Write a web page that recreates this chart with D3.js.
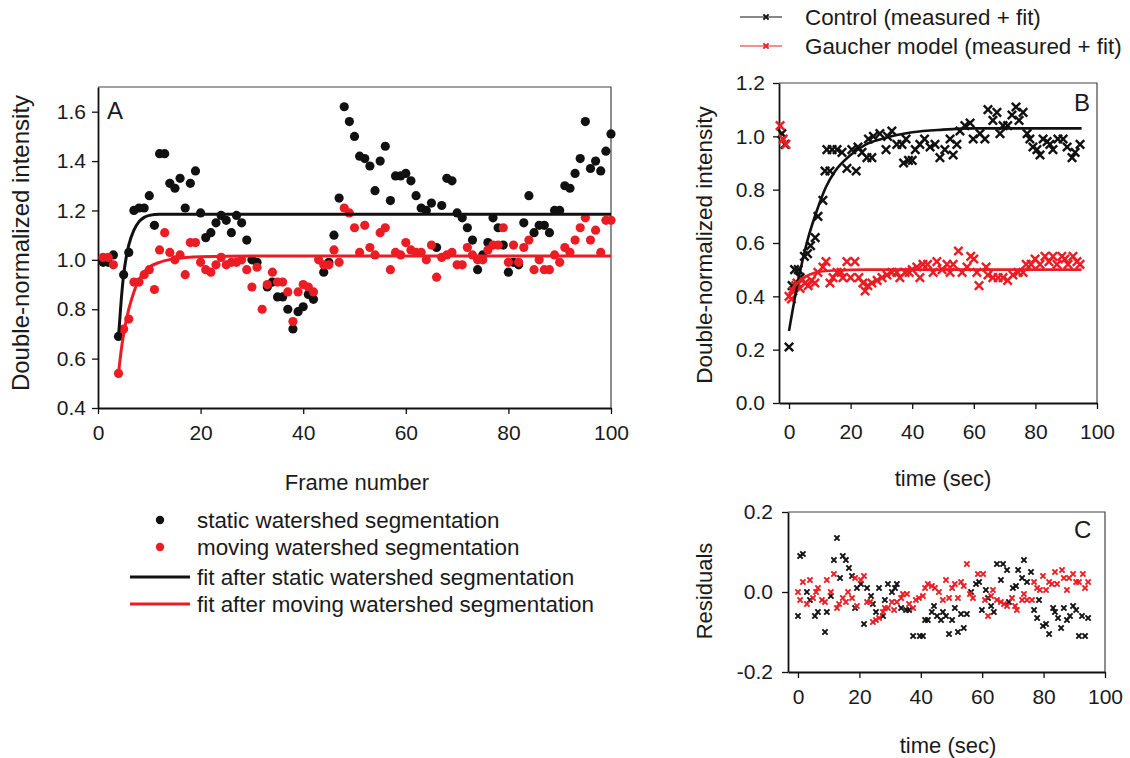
<!DOCTYPE html>
<html lang="en">
<head>
  <meta charset="UTF-8">
  <title>Double-normalized intensity recovery</title>
  <script src="https://d3js.org/d3.v7.min.js"></script>
  <style>
    body { margin: 0; background: #fff; font-family: "Liberation Sans", Arial, sans-serif; }
    svg text { fill: #1a1a1a; }
    .tick text { font-size: 21px; font-family: "Liberation Sans", Arial, sans-serif; }
    .domain { stroke: #111; stroke-width: 1.8px; }
    .tick line { stroke: #111; stroke-width: 1.3px; }
    .title { font-size: 22px; }
    .legend { font-size: 22.4px; }
  </style>
</head>
<body>
  <svg width="1130" height="758"></svg>

  <script>
    // ---- panel A: frame number vs intensity ----
    const staticWatershed = [
      [1,0.99],[2,0.99],[3,1.02],[4,0.69],[5,0.94],[6,1.03],[7,1.20],[8,1.21],[9,1.21],[10,1.26],
      [11,1.14],[12,1.43],[13,1.43],[14,1.31],[15,1.29],[16,1.33],[17,1.21],[18,1.31],[19,1.36],[20,1.19],
      [21,1.09],[22,1.11],[23,1.15],[24,1.18],[25,1.16],[26,1.11],[27,1.18],[28,1.15],[29,1.08],[30,1.00],
      [31,0.99],[33,0.89],[34,0.91],[35,0.85],[36,0.85],[37,0.80],[38,0.72],[39,0.79],[40,0.81],[41,0.86],
      [42,0.84],[44,0.95],[45,0.99],[46,1.10],[47,1.25],[48,1.62],[49,1.56],[50,1.50],[51,1.42],[52,1.41],
      [53,1.38],[54,1.28],[55,1.40],[56,1.46],[57,1.24],[58,1.34],[59,1.34],[60,1.35],[61,1.32],[62,1.26],
      [63,1.21],[64,1.20],[65,1.23],[66,1.05],[67,1.22],[68,1.33],[69,1.32],[70,1.19],[71,1.17],[72,1.13],
      [73,1.08],[74,0.96],[75,1.02],[76,1.07],[77,1.17],[78,1.13],[79,1.06],[80,0.95],[81,0.99],[82,0.98],
      [83,1.15],[84,1.26],[85,1.11],[86,1.14],[87,1.14],[88,1.11],[89,1.20],[90,1.20],[91,1.30],[92,1.29],
      [93,1.35],[94,1.41],[95,1.56],[96,1.37],[97,1.40],[98,1.36],[99,1.44],[100,1.51]
    ];
    const movingWatershed = [
      [1,1.01],[2,1.01],[3,0.98],[4,0.54],[5,0.72],[6,0.76],[7,0.91],[8,0.91],[9,0.94],[10,0.96],
      [11,0.88],[12,1.04],[13,1.11],[14,1.03],[15,1.00],[16,1.02],[17,0.94],[18,1.07],[19,1.07],[20,0.99],
      [21,0.96],[22,0.95],[23,0.98],[24,1.01],[25,0.98],[26,0.99],[27,0.99],[28,1.00],[29,0.96],[30,0.89],
      [31,0.97],[32,0.80],[33,0.90],[34,0.95],[35,0.91],[36,0.91],[37,0.87],[38,0.75],[39,0.87],[40,0.90],
      [41,0.89],[42,0.87],[43,1.00],[44,0.98],[45,0.98],[46,1.04],[47,0.99],[48,1.21],[49,1.19],[50,1.13],
      [51,1.03],[52,1.14],[53,1.05],[54,1.02],[55,1.11],[56,1.13],[57,0.96],[58,1.03],[59,1.02],[60,1.07],
      [61,1.04],[62,1.03],[63,1.03],[64,1.00],[65,1.06],[66,0.93],[67,1.01],[68,1.02],[69,1.03],[70,0.98],
      [71,0.98],[72,1.05],[73,1.02],[74,1.00],[75,1.00],[76,1.04],[77,1.06],[78,1.06],[79,1.13],[80,0.99],
      [81,1.06],[82,0.99],[83,1.05],[84,1.08],[85,0.96],[86,1.00],[87,0.96],[88,0.96],[89,1.02],[90,0.99],
      [91,1.05],[92,1.03],[93,1.08],[94,1.13],[95,1.17],[96,1.08],[97,1.12],[98,1.03],[99,1.16],[100,1.16]
    ];
    const staticFit = [[4,0.69],[4.5,0.83],[5,0.94],[5.5,1.01],[6,1.06],[7,1.12],[8,1.155],[9,1.172],[10,1.18],[12,1.185],[100,1.185]];
    const movingFit = [[4,0.54],[4.5,0.63],[5,0.70],[6,0.80],[7,0.87],[8,0.92],[9,0.95],[10,0.97],[12,0.99],[15,1.005],[20,1.013],[30,1.016],[100,1.016]];
    const frameTicks = [0, 20, 40, 60, 80, 100];
    const intensityTicksA = [0.4, 0.6, 0.8, 1.0, 1.2, 1.4, 1.6];

    // ---- panel B: time vs intensity ----
    const controlMeasured = [
      [-2.3,1.01],[-1.3,0.97],[0,0.21],[1,0.44],[1.8,0.50],[3,0.50],[3.6,0.47],[5,0.55],[6,0.56],[7,0.59],
      [8.5,0.62],[9.4,0.70],[11,0.76],[11.7,0.87],[12.3,0.95],[13.3,0.87],[14,0.95],[15.6,0.95],[17.2,0.94],[18.8,0.88],
      [20.4,0.95],[21.8,0.87],[22.4,0.96],[23.7,0.94],[25.3,0.92],[25.8,0.99],[26.9,0.92],[27.4,1.00],[29.5,1.01],[31.5,0.95],
      [32,1.00],[33.4,1.02],[35,0.97],[36.7,0.97],[37.2,0.90],[38,0.99],[38.8,0.91],[40,0.91],[41,0.95],[42.5,0.97],
      [44,0.99],[45.8,0.96],[47.4,0.97],[49,0.92],[50.6,0.95],[52.3,0.99],[53.3,0.93],[54.5,0.97],[55.5,1.02],[57.1,1.04],
      [58.8,1.05],[59.8,0.99],[62,1.01],[63.6,0.99],[64.6,1.10],[66.2,1.06],[67.5,1.09],[68.5,1.01],[69.5,1.04],[71,1.04],
      [72.4,1.08],[73.7,1.11],[74.7,1.06],[76,1.09],[77.3,1.01],[78.2,0.99],[79.2,0.96],[80.5,0.95],[81.5,0.93],[82.5,0.99],
      [83.8,0.98],[84.7,0.97],[85.7,0.95],[87.3,0.99],[89,0.99],[90.3,0.96],[91.9,0.92],[92.9,0.94],[94.5,0.97]
    ];
    const gaucherMeasured = [
      [-2.9,1.04],[-1.9,0.99],[-1,0.97],[0,0.40],[0.8,0.39],[1.3,0.42],[2.2,0.44],[2.6,0.45],[3.6,0.43],[4.2,0.46],
      [5.2,0.45],[6.2,0.44],[7.3,0.46],[8.4,0.45],[9.4,0.49],[11,0.51],[12,0.53],[13.3,0.45],[14.3,0.47],[15.6,0.49],
      [16.9,0.49],[17.5,0.47],[18.8,0.53],[20,0.47],[21.4,0.53],[22.7,0.47],[24,0.45],[24.7,0.42],[25.6,0.44],[26.9,0.45],
      [28.6,0.46],[30.2,0.47],[31.8,0.48],[33.4,0.49],[35,0.49],[36,0.47],[37.7,0.49],[39,0.49],[40,0.50],[41.5,0.51],
      [42.5,0.47],[43.5,0.52],[45,0.52],[46.8,0.49],[48,0.53],[49.7,0.50],[51.3,0.52],[52.3,0.49],[53.3,0.52],[55,0.57],
      [56.2,0.49],[57.8,0.51],[59,0.55],[60,0.54],[61,0.49],[61.7,0.44],[64,0.51],[64.6,0.48],[66.2,0.47],[67.9,0.47],
      [69.5,0.47],[71,0.46],[72.7,0.48],[74.4,0.49],[76,0.49],[77,0.52],[78.6,0.52],[79.9,0.54],[81.5,0.52],[83.1,0.55],
      [84.4,0.53],[85.7,0.55],[87,0.52],[88.6,0.55],[89.6,0.54],[90.6,0.52],[92.2,0.55],[93.5,0.53],[94.5,0.52]
    ];
    const controlFit = [[0,0.27],[3,0.46],[6,0.61],[9,0.72],[12,0.81],[15,0.87],[20,0.93],[25,0.97],[30,0.99],[40,1.015],[50,1.025],[60,1.03],[95,1.03]];
    const gaucherFit = [[0,0.41],[2,0.44],[4,0.465],[7,0.483],[10,0.492],[15,0.497],[25,0.50],[95,0.50]];
    const timeTicks = [0, 20, 40, 60, 80, 100];
    const intensityTicksB = [0.0, 0.2, 0.4, 0.6, 0.8, 1.0, 1.2];

    // ---- panel C: residuals ----
    const controlResiduals = [
      [0,-0.06],[0.7,0.09],[1.6,0.095],[2.9,0.0],[3.9,-0.02],[5.5,-0.06],[6.5,-0.05],[8.8,-0.10],[9.4,-0.05],[10.7,-0.01],
      [11.7,0.08],[12.7,0.135],[13.7,0.035],[14.6,0.09],[15.6,0.08],[16.6,0.06],[17.6,0.04],[18.6,-0.04],[19.2,0.01],[20.5,0.02],
      [21.5,-0.08],[22.5,0.01],[23.8,-0.01],[24.4,-0.03],[25.4,-0.05],[26.4,0.01],[27.7,-0.06],[28.3,-0.02],[29.3,0.02],[30.6,0.0],
      [31.6,0.01],[32.2,0.02],[33.6,-0.04],[35.2,-0.045],[36.2,-0.045],[37.5,-0.11],[39.7,-0.11],[40.7,-0.11],[41.4,-0.07],[42.3,-0.07],
      [43.6,-0.05],[44.3,-0.035],[45.3,-0.06],[46.6,-0.07],[47.2,-0.05],[48.2,-0.06],[49.2,-0.105],[50.2,-0.07],[51.1,-0.04],[52.1,-0.10],
      [53.1,-0.055],[54,-0.09],[55,-0.055],[56.4,0.0],[58,0.02],[59,0.025],[59.9,-0.045],[61.2,0.005],[61.9,-0.015],[62.9,-0.035],
      [63.8,-0.05],[64.8,0.07],[66.1,0.03],[66.8,0.07],[68.1,0.055],[68.7,-0.025],[70,0.01],[71,0.015],[71.7,0.055],[73,0.035],
      [73.6,0.08],[74.6,0.025],[75.9,0.05],[76.9,-0.045],[77.9,-0.065],[78.5,-0.02],[79.8,-0.085],[80.8,-0.08],[81.8,-0.105],[83.1,-0.04],
      [83.7,-0.05],[84.7,-0.065],[85.7,-0.09],[86.6,-0.04],[87.6,-0.07],[88.6,-0.06],[89.6,-0.035],[90.6,-0.045],[91.5,-0.11],[92.5,-0.06],
      [93.5,-0.11],[94.5,-0.065]
    ];
    const gaucherResiduals = [
      [0,0.0],[0.7,-0.02],[1.6,0.025],[2.9,-0.03],[3.9,0.03],[4.9,-0.015],[5.9,0.0],[6.5,0.01],[7.8,-0.02],[8.8,-0.025],
      [9.4,0.03],[10.7,0.0],[11.7,0.045],[12.7,-0.04],[13.4,-0.03],[14.6,-0.015],[15.6,-0.025],[16.3,0.0],[17.6,-0.015],[18.6,0.035],
      [19.2,-0.035],[20.5,0.03],[21.5,0.04],[22.5,-0.025],[23.5,-0.025],[24.4,-0.075],[25.4,-0.07],[26.4,-0.065],[27.7,-0.05],[28.3,-0.04],
      [29.3,-0.04],[30.6,-0.025],[31.3,-0.045],[32.2,-0.025],[33.6,-0.015],[34.2,-0.005],[35.5,-0.005],[36.2,-0.03],[37.5,-0.04],[38.4,-0.02],
      [39.4,-0.015],[40.7,-0.01],[41.4,0.01],[42.3,0.02],[43.6,0.015],[44.6,0.01],[45.9,0.0],[47.2,-0.02],[48.2,0.03],[49.2,-0.015],
      [50.2,0.01],[51.1,0.02],[52.1,-0.015],[53.1,0.025],[54,0.015],[55,0.07],[56,-0.005],[57,-0.015],[58.6,0.045],[60.3,0.045],
      [60.9,-0.02],[61.9,-0.06],[62.9,-0.01],[63.5,0.005],[64.8,-0.02],[66.1,-0.025],[67.1,-0.03],[68.1,-0.035],[69.7,-0.015],[70.7,-0.035],
      [71.3,-0.045],[73,-0.02],[73.6,-0.005],[74.6,-0.02],[76.2,-0.02],[76.9,0.025],[77.9,0.01],[78.8,0.005],[79.8,0.04],[80.8,0.005],
      [81.8,0.025],[82.7,0.02],[83.7,0.05],[84.4,0.02],[86,0.055],[86.6,0.035],[87.6,0.005],[88.3,0.035],[89.6,0.045],[90.6,0.025],
      [91.5,0.025],[92.8,0.045],[93.5,0.01],[94.5,0.025]
    ];
    const residualTicks = [-0.2, 0.0, 0.2];

    const RED = "#ec1c24";
    const BLACK = "#111";
    const svg = d3.select("svg");

    // plain hyphen for negatives, as in the original figure
    const fmt1 = v => d3.format(".1f")(v).replace("\u2212", "-");

    // one boxed panel: left/bottom axes with outward ticks, thin frame on top/right
    function panel(o) {
      const x = d3.scaleLinear().domain(o.xDomain).range(o.xRange);
      const y = d3.scaleLinear().domain(o.yDomain).range(o.yRange);
      const g = svg.append("g");
      const [x0, x1] = o.xRange, [y0, y1] = o.yRange;

      g.append("path")
        .attr("d", `M${x0},${y1}H${x1}V${y0}`)
        .attr("fill", "none").attr("stroke", "#444").attr("stroke-width", 1.2);

      g.append("g")
        .attr("transform", `translate(0,${y0})`)
        .call(d3.axisBottom(x).tickValues(o.xTicks).tickSize(6).tickSizeOuter(0).tickPadding(o.xPad).tickFormat(d3.format("d")));
      g.append("g")
        .attr("transform", `translate(${x0},0)`)
        .call(d3.axisLeft(y).tickValues(o.yTicks).tickSize(6).tickSizeOuter(0).tickPadding(o.yPad).tickFormat(fmt1));

      g.append("text").attr("class", "title")
        .attr("x", o.xTitle[0]).attr("y", o.xTitle[1])
        .attr("text-anchor", "middle").text(o.xLabel);
      g.append("text").attr("class", "title")
        .style("font-size", o.yTitleSize + "px")
        .attr("transform", `translate(${o.yTitle[0]},${o.yTitle[1]}) rotate(-90)`)
        .attr("text-anchor", "middle").text(o.yLabel);
      g.append("text")
        .attr("x", o.letter[0]).attr("y", o.letter[1])
        .attr("font-size", 24).text(o.letterText);
      return { x, y, g };
    }

    const cross = s => `M${-s},${-s}L${s},${s}M${-s},${s}L${s},${-s}`;

    function drawDots(p, data, color, r) {
      p.g.append("g").selectAll("circle").data(data).join("circle")
        .attr("cx", d => p.x(d[0])).attr("cy", d => p.y(d[1]))
        .attr("r", r).attr("fill", color);
    }
    function drawCrosses(p, data, color, s, w) {
      p.g.append("g").selectAll("path").data(data).join("path")
        .attr("transform", d => `translate(${p.x(d[0])},${p.y(d[1])})`)
        .attr("d", cross(s)).attr("stroke", color).attr("stroke-width", w).attr("fill", "none");
    }
    function drawFit(p, data, color, w) {
      const line = d3.line().x(d => p.x(d[0])).y(d => p.y(d[1])).curve(d3.curveMonotoneX);
      p.g.append("path").datum(data).attr("d", line)
        .attr("fill", "none").attr("stroke", color).attr("stroke-width", w);
    }

    // Panel A
    const pA = panel({
      xDomain: [0, 100], xRange: [98, 611], yDomain: [0.4, 1.7], yRange: [408, 87],
      xTicks: frameTicks, yTicks: intensityTicksA, xPad: 11, yPad: 6,
      xLabel: "Frame number", xTitle: [357, 490],
      yLabel: "Double-normalized intensity", yTitle: [29, 243], yTitleSize: 24,
      letter: [107, 119], letterText: "A"
    });
    drawDots(pA, staticWatershed, BLACK, 4.6);
    drawDots(pA, movingWatershed, RED, 4.6);
    drawFit(pA, staticFit, BLACK, 3);
    drawFit(pA, movingFit, RED, 3);

    // Panel A legend
    const legA = svg.append("g").attr("class", "legend");
    const legAItems = [
      { label: "static watershed segmentation", color: BLACK, kind: "dot" },
      { label: "moving watershed segmentation", color: RED, kind: "dot" },
      { label: "fit after static watershed segmentation", color: BLACK, kind: "line" },
      { label: "fit after moving watershed segmentation", color: RED, kind: "line" }
    ];
    legAItems.forEach((it, i) => {
      const yy = [520, 547, 577, 604][i];
      if (it.kind === "dot") {
        legA.append("circle").attr("cx", 160).attr("cy", yy).attr("r", 4.2).attr("fill", it.color);
      } else {
        legA.append("line").attr("x1", 130).attr("x2", 190).attr("y1", yy).attr("y2", yy)
          .attr("stroke", it.color).attr("stroke-width", 3);
      }
      legA.append("text").attr("x", 197).attr("y", yy + 8).text(it.label);
    });

    // Panel B
    const pB = panel({
      xDomain: [-3.25, 100], xRange: [779, 1097], yDomain: [0, 1.2], yRange: [403, 83],
      xTicks: timeTicks, yTicks: intensityTicksB, xPad: 15, yPad: 8,
      xLabel: "time (sec)", xTitle: [943, 486],
      yLabel: "Double-normalized intensity", yTitle: [712, 245], yTitleSize: 22.5,
      letter: [1074, 111], letterText: "B"
    });
    drawCrosses(pB, controlMeasured, BLACK, 4.2, 2.4);
    drawCrosses(pB, gaucherMeasured, RED, 4.2, 2.4);
    drawFit(pB, controlFit, BLACK, 2.6);
    drawFit(pB, gaucherFit, RED, 2.6);

    // Panel B legend
    const legB = svg.append("g").attr("class", "legend");
    [["Control (measured + fit)", BLACK, 17], ["Gaucher model (measured + fit)", RED, 46]].forEach(([label, color, yy]) => {
      legB.append("line").attr("x1", 740).attr("x2", 782).attr("y1", yy).attr("y2", yy)
        .attr("stroke", color).attr("stroke-width", 1.2);
      legB.append("path").attr("transform", `translate(766,${yy})`).attr("d", cross(2.6))
        .attr("stroke", color).attr("stroke-width", 2);
      legB.append("text").attr("x", 805).attr("y", yy + 8).text(label);
    });

    // Panel C
    const pC = panel({
      xDomain: [-3.25, 100], xRange: [788, 1105], yDomain: [-0.2, 0.2], yRange: [672, 512],
      xTicks: timeTicks, yTicks: residualTicks, xPad: 11, yPad: 9,
      xLabel: "time (sec)", xTitle: [948, 753],
      yLabel: "Residuals", yTitle: [712, 591], yTitleSize: 22,
      letter: [1074, 538], letterText: "C"
    });
    drawCrosses(pC, controlResiduals, BLACK, 2.6, 2);
    drawCrosses(pC, gaucherResiduals, RED, 2.6, 2);
  </script>
</body>
</html>
